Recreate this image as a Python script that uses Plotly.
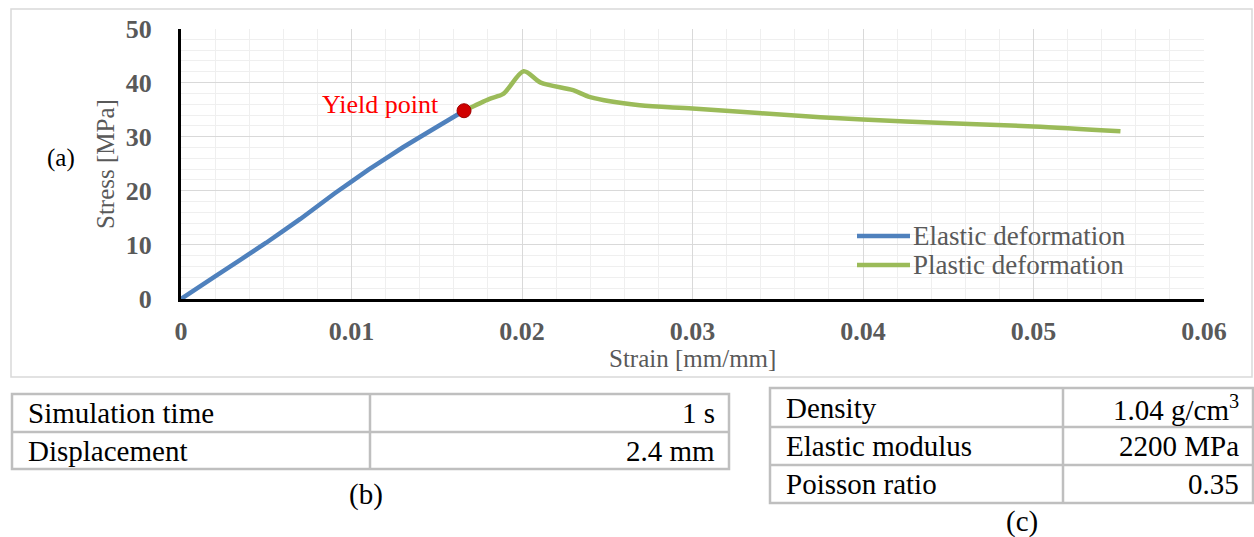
import plotly.graph_objects as go

# ---------------- data ----------------
elastic_strain = [0, 0.002, 0.005, 0.007, 0.009, 0.011, 0.013, 0.015, 0.0166]
elastic_stress = [0, 4.2, 10.4, 14.8, 19.5, 23.9, 28.0, 31.8, 34.8]

plastic_strain = [0.0166, 0.0181, 0.0189, 0.0201, 0.0211, 0.0230, 0.0240,
                  0.0269, 0.0300, 0.0375, 0.0425, 0.0500, 0.0551]
plastic_stress = [34.8, 37.0, 37.9, 42.1, 40.0, 38.6, 37.3,
                  35.8, 35.2, 33.6, 32.8, 31.9, 31.0]

yield_strain = [0.0166]
yield_stress = [34.8]

series_names = ["Elastic deformation", "Plastic deformation"]

table_b_labels = ["Simulation time", "Displacement"]
table_b_values = ["1 s", "2.4 mm"]
table_c_labels = ["Density", "Elastic modulus", "Poisson ratio"]
table_c_values = ["1.04 g/cm<sup>3</sup>", "2200 MPa", "0.35"]

# ---------------- helpers ----------------
W, H = 1254, 537
FONT = "Liberation Serif, Times New Roman, serif"
BLUE = "#4f81bd"
GREEN = "#9bbb59"
GRAY = "#595959"


def px(x):
    return x / W


def py(y):
    return 1 - y / H


fig = go.Figure()

fig.add_trace(go.Scatter(x=elastic_strain, y=elastic_stress, mode="lines",
                         name=series_names[0], showlegend=False,
                         line=dict(color=BLUE, width=4.5, shape="spline", smoothing=0.4)))
fig.add_trace(go.Scatter(x=plastic_strain, y=plastic_stress, mode="lines",
                         name=series_names[1], showlegend=False,
                         line=dict(color=GREEN, width=4.5, shape="spline", smoothing=0.8)))
fig.add_trace(go.Scatter(x=yield_strain, y=yield_stress, mode="markers",
                         name="Yield point", showlegend=False,
                         marker=dict(color="#d00000", size=14,
                                     line=dict(color="#a00000", width=1))))

shapes = []
annotations = []

# outer chart border
shapes.append(dict(type="rect", xref="paper", yref="paper",
                   x0=px(11), x1=px(1252), y0=py(377), y1=py(9),
                   line=dict(color="#d9d9d9", width=1.5), layer="below"))

# manual legend
leg_y = [236, 265]
leg_col = [BLUE, GREEN]
for i in range(2):
    shapes.append(dict(type="line", xref="paper", yref="paper",
                       x0=px(857), x1=px(910), y0=py(leg_y[i]), y1=py(leg_y[i]),
                       line=dict(color=leg_col[i], width=4.5)))
    annotations.append(dict(xref="paper", yref="paper", x=px(911), y=py(leg_y[i]),
                            text=series_names[i], showarrow=False,
                            xanchor="left", yanchor="middle",
                            font=dict(family=FONT, size=27, color=GRAY)))

# axis titles and labels
annotations.append(dict(xref="paper", yref="paper", x=px(105), y=py(164),
                        text="Stress [MPa]", textangle=-90, showarrow=False,
                        xanchor="center", yanchor="middle",
                        font=dict(family=FONT, size=25, color=GRAY)))
annotations.append(dict(xref="paper", yref="paper", x=px(692), y=py(358),
                        text="Strain [mm/mm]", showarrow=False,
                        xanchor="center", yanchor="middle",
                        font=dict(family=FONT, size=25, color=GRAY)))
annotations.append(dict(xref="paper", yref="paper", x=px(61), y=py(158),
                        text="(a)", showarrow=False,
                        xanchor="center", yanchor="middle",
                        font=dict(family=FONT, size=25, color="black")))
annotations.append(dict(xref="paper", yref="paper", x=px(441), y=py(105),
                        text="Yield point", showarrow=False,
                        xanchor="right", yanchor="middle",
                        font=dict(family=FONT, size=26, color="#ff0000")))

# ---------------- tables ----------------
TB = "#bfbfbf"


def table(x0, xm, x1, rows, labels, values, fsize):
    shapes.append(dict(type="rect", xref="paper", yref="paper",
                       x0=px(x0), x1=px(x1), y0=py(rows[-1]), y1=py(rows[0]),
                       line=dict(color=TB, width=2.5)))
    shapes.append(dict(type="line", xref="paper", yref="paper",
                       x0=px(xm), x1=px(xm), y0=py(rows[-1]), y1=py(rows[0]),
                       line=dict(color=TB, width=2.5)))
    for r in rows[1:-1]:
        shapes.append(dict(type="line", xref="paper", yref="paper",
                           x0=px(x0), x1=px(x1), y0=py(r), y1=py(r),
                           line=dict(color=TB, width=2.5)))
    for i in range(len(labels)):
        yc = (rows[i] + rows[i + 1]) / 2
        annotations.append(dict(xref="paper", yref="paper", x=px(x0 + 14), y=py(yc),
                                text=labels[i], showarrow=False,
                                xanchor="left", yanchor="middle",
                                font=dict(family=FONT, size=fsize, color="black")))
        annotations.append(dict(xref="paper", yref="paper", x=px(x1 - 12), y=py(yc),
                                text=values[i], showarrow=False,
                                xanchor="right", yanchor="middle",
                                font=dict(family=FONT, size=fsize, color="black")))


table(12, 370, 729, [394, 432, 469], table_b_labels, table_b_values, 29)
table(770, 1063, 1253, [388, 427, 465, 503], table_c_labels, table_c_values, 29)

annotations.append(dict(xref="paper", yref="paper", x=px(366), y=py(494),
                        text="(b)", showarrow=False, xanchor="center", yanchor="middle",
                        font=dict(family=FONT, size=29, color="black")))
annotations.append(dict(xref="paper", yref="paper", x=px(1022), y=py(521),
                        text="(c)", showarrow=False, xanchor="center", yanchor="middle",
                        font=dict(family=FONT, size=29, color="black")))

# ---------------- layout ----------------
fig.update_layout(
    template="none",
    width=W, height=H, autosize=False,
    margin=dict(l=0, r=0, t=0, b=0, pad=0, autoexpand=False),
    paper_bgcolor="white", plot_bgcolor="white",
    showlegend=False,
    shapes=shapes, annotations=annotations,
    xaxis=dict(domain=[px(181), px(1204)], range=[0, 0.06], dtick=0.01, tick0=0,
               automargin=False,
               showline=True, linecolor="black", linewidth=3,
               showgrid=True, gridcolor="#d9d9d9", gridwidth=1.2,
               minor=dict(dtick=0.002, showgrid=True, gridcolor="#efefef", gridwidth=1.2),
               zeroline=False, ticks="", ticklabelstandoff=7,
               tickfont=dict(family=FONT, size=26, color=GRAY, weight="bold"),
               anchor="y"),
    yaxis=dict(domain=[py(299), py(28.5)], range=[0, 50], dtick=10, tick0=0,
               automargin=False,
               showline=True, linecolor="black", linewidth=3,
               showgrid=True, gridcolor="#d9d9d9", gridwidth=1.2,
               minor=dict(dtick=2, showgrid=True, gridcolor="#efefef", gridwidth=1.2),
               zeroline=False, ticks="", ticklabelstandoff=21,
               tickfont=dict(family=FONT, size=26, color=GRAY, weight="bold"),
               anchor="x"),
)

fig.write_html("out.html")
